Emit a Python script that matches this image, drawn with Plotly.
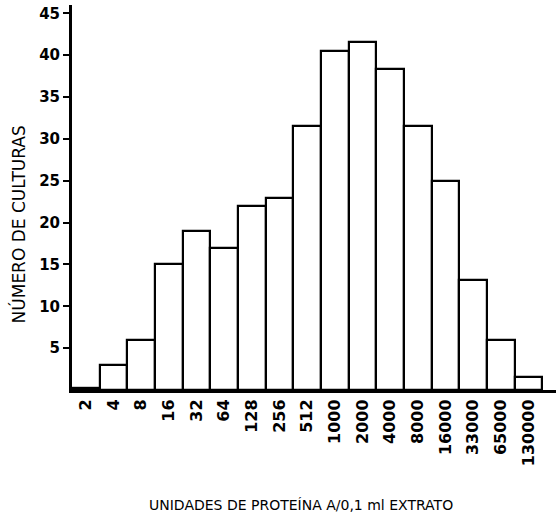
import plotly.graph_objects as go

categories = ["2", "4", "8", "16", "32", "64", "128", "256", "512", "1000",
              "2000", "4000", "8000", "16000", "33000", "65000", "130000"]
counts = [0.2, 3, 6, 15, 19, 17, 22, 23, 31.5, 40.5, 41.6, 38.4, 31.5, 25, 13.2, 6, 1.6]
y_ticks = [5, 10, 15, 20, 25, 30, 35, 40, 45]
x_title = "UNIDADES DE PROTEÍNA A/0,1 ml EXTRATO"
y_title = "NÚMERO DE CULTURAS"

font_family = "DejaVu Sans, Arial, sans-serif"

fig = go.Figure()
fig.add_trace(go.Bar(
    x=list(range(len(categories))),
    y=counts,
    width=1.0,
    marker=dict(color="white", line=dict(color="black", width=2.2)),
    showlegend=False,
))

fig.update_layout(
    width=560, height=516,
    margin=dict(l=72, r=4, t=5, b=126),
    paper_bgcolor="white", plot_bgcolor="white",
    bargap=0,
    font=dict(family=font_family, color="black"),
    xaxis=dict(
        range=[-0.5, 17.0],
        tickmode="array",
        tickvals=list(range(len(categories))),
        ticktext=categories,
        tickangle=-90,
        ticks="",
        showgrid=False, zeroline=False,
        showline=True, linecolor="black", linewidth=3,
        tickfont=dict(size=16, family=font_family, color="black", weight="bold"),
    ),
    yaxis=dict(
        range=[0, 46.0],
        tickmode="array",
        tickvals=y_ticks,
        ticks="outside", ticklen=6, tickwidth=2, tickcolor="black",
        showgrid=False, zeroline=False,
        showline=True, linecolor="black", linewidth=3,
        tickfont=dict(size=15, family=font_family, color="black", weight="bold"),
    ),
    annotations=[
        dict(text=x_title, xref="paper", yref="paper", x=0.473, y=-0.2987,
             xanchor="center", yanchor="middle", showarrow=False,
             font=dict(size=14, family=font_family, color="black")),
        dict(text=y_title, xref="paper", yref="paper", x=0, y=0.43,
             xshift=-54, textangle=-90, xanchor="center", yanchor="middle",
             showarrow=False,
             font=dict(size=17, family=font_family, color="black")),
    ],
)

fig.write_html("out.html",
               config={"displayModeBar": False},
               post_script="document.body.style.margin='0';document.body.style.padding='0';")
